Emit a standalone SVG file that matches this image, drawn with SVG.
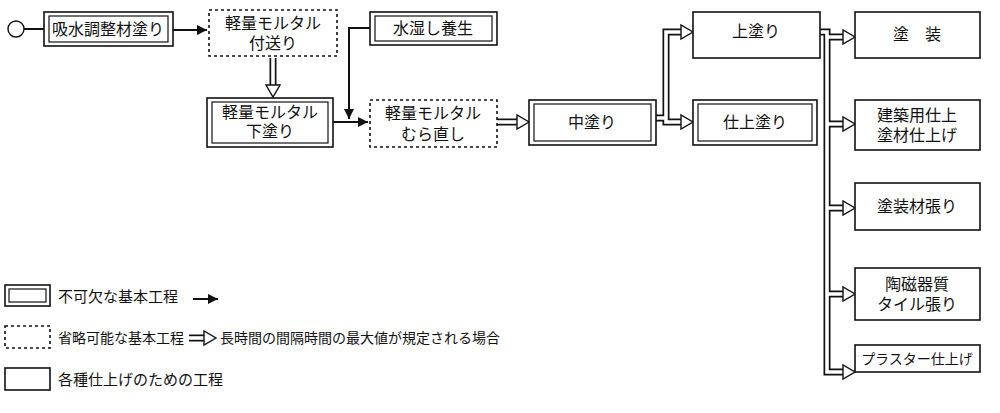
<svg xmlns="http://www.w3.org/2000/svg" width="1000" height="413" viewBox="0 0 1000 413">
<style>
text{font-family:"Liberation Serif","Noto Sans CJK JP",serif;font-size:16px;fill:#111;text-anchor:middle}
.lt{text-anchor:start;font-size:15px}
.sm{font-size:14px}
.o{fill:#fff;stroke:#111;stroke-width:1.6}
.i{fill:none;stroke:#111;stroke-width:1.2}
.d{fill:#fff;stroke:#111;stroke-width:1.6;stroke-dasharray:3,3}
.ln{fill:none;stroke:#111;stroke-width:2}
.hb{fill:none;stroke:#111;stroke-width:7;stroke-linejoin:miter}
.hw{fill:none;stroke:#fff;stroke-width:3.6;stroke-linejoin:miter}
.hh{fill:#fff;stroke:#111;stroke-width:1.4;stroke-linejoin:miter}
</style>
<defs><marker id="a" viewBox="0 0 10 10" refX="10" refY="5" markerWidth="5" markerHeight="5" orient="auto"><path d="M0,0L10,5L0,10z" fill="#111"/></marker></defs>
<g id="connectors">
<circle cx="16" cy="29" r="8" fill="#fff" stroke="#111" stroke-width="1.4"/>
<path class="ln" d="M24,29H44"/>
<path class="ln" d="M173,30H207" marker-end="url(#a)"/>
<path class="ln" d="M370,28H349V119" marker-end="url(#a)"/>
<path class="ln" d="M333,122H368" marker-end="url(#a)"/>
<path class="hb" d="M273,58V86"/><path class="hw" d="M273,58V87"/><path class="hh" d="M266,85H280L273,97Z"/>
<path class="hb" d="M497,122H518"/><path class="hw" d="M497,122H519"/><path class="hh" d="M517,115V129L529,122Z"/>
<path class="hb" d="M656,118H666V32H682M666,118V122H682"/><path class="hw" d="M656,118H666V32H683M666,118V122H683"/>
<path class="hh" d="M681,25V39L693,32Z"/><path class="hh" d="M681,115V129L693,122Z"/>
<path class="hb" d="M820,32H827V372H843M827,37H843M827,124H843M827,208H843M827,294H843"/>
<path class="hw" d="M820,32H827V372H844M827,37H844M827,124H844M827,208H844M827,294H844"/>
<path class="hh" d="M843,30V44L855,37Z"/><path class="hh" d="M843,117V131L855,124Z"/><path class="hh" d="M843,201V215L855,208Z"/><path class="hh" d="M843,287V301L855,294Z"/><path class="hh" d="M843,365V379L855,372Z"/>
</g>
<g id="n1"><rect class="o" x="44" y="12" width="129" height="34"/><rect class="i" x="49" y="16" width="119" height="26"/><text x="108" y="35">吸水調整材塗り</text></g>
<g id="n2"><rect class="d" x="209" y="10" width="128" height="46"/><text x="273" y="29">軽量モルタル</text><text x="273" y="49">付送り</text></g>
<g id="n3"><rect class="o" x="207" y="98" width="126" height="49"/><rect class="i" x="212" y="102" width="116" height="41"/><text x="270" y="118">軽量モルタル</text><text x="270" y="137">下塗り</text></g>
<g id="n4"><rect class="o" x="370" y="12" width="127" height="33"/><rect class="i" x="375" y="16" width="117" height="25"/><text x="433" y="34">水湿し養生</text></g>
<g id="n5"><rect class="d" x="370" y="100" width="127" height="47"/><text x="433" y="119">軽量モルタル</text><text x="433" y="140">むら直し</text></g>
<g id="n6"><rect class="o" x="529" y="100" width="127" height="45"/><rect class="i" x="534" y="104" width="117" height="37"/><text x="592" y="128">中塗り</text></g>
<g id="n7"><rect class="o" x="693" y="12" width="127" height="46"/><text x="756" y="37">上塗り</text></g>
<g id="n8"><rect class="o" x="693" y="100" width="124" height="45"/><rect class="i" x="698" y="104" width="114" height="37"/><text x="755" y="128">仕上塗り</text></g>
<g id="n9"><rect class="o" x="855" y="12" width="125" height="46"/><text x="917" y="40">塗　装</text></g>
<g id="n10"><rect class="o" x="855" y="100" width="125" height="50"/><text x="917" y="121">建築用仕上</text><text x="917" y="141">塗材仕上げ</text></g>
<g id="n11"><rect class="o" x="855" y="183" width="125" height="47"/><text x="917" y="212">塗装材張り</text></g>
<g id="n12"><rect class="o" x="855" y="268" width="125" height="52"/><text x="917" y="290">陶磁器質</text><text x="917" y="310">タイル張り</text></g>
<g id="n13"><rect class="o" x="855" y="345" width="125" height="27"/><text class="sm" x="917" y="364">プラスター仕上げ</text></g>
<g id="legend">
<rect class="o" x="5" y="285" width="45" height="21"/><rect class="i" x="9" y="289" width="37" height="13"/>
<text class="lt" x="58" y="302">不可欠な基本工程</text>
<path class="ln" d="M193,299H218" marker-end="url(#a)"/>
<rect class="d" x="5" y="326" width="45" height="22"/>
<text class="lt sm" x="58" y="343">省略可能な基本工程</text>
<path class="hb" d="M189,338H205"/><path class="hw" d="M189,338H206"/><path class="hh" d="M204,331V345L216,338Z"/>
<text class="lt sm" x="220" y="343">長時間の間隔時間の最大値が規定される場合</text>
<rect class="o" x="5" y="368" width="45" height="22"/>
<text class="lt" x="58" y="385">各種仕上げのための工程</text>
</g>
</svg>
